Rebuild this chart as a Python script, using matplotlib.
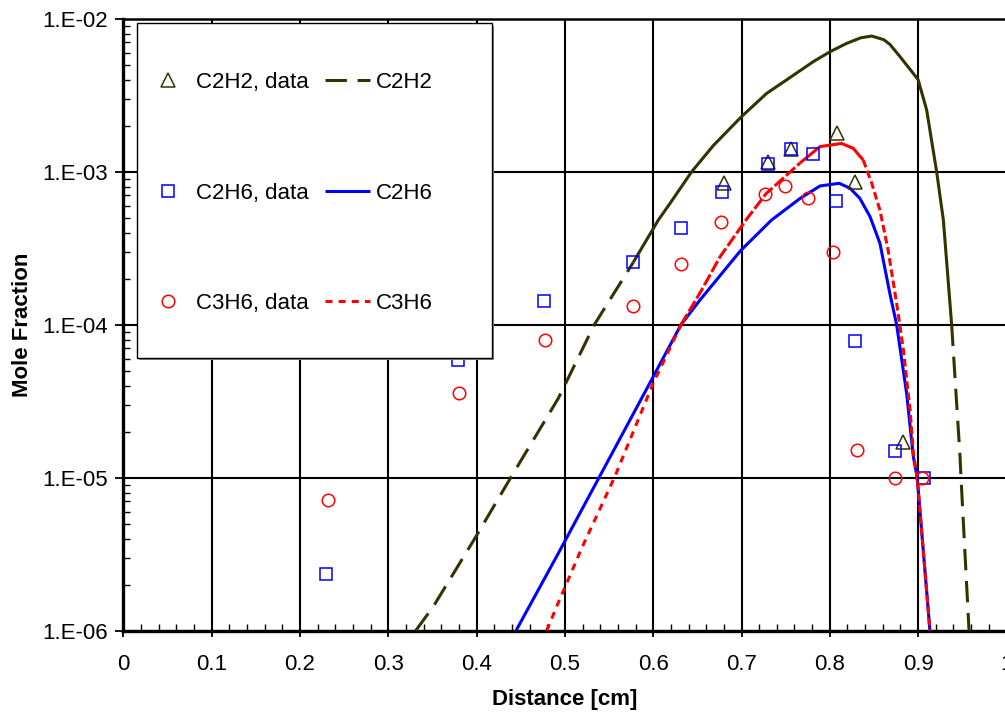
import numpy as np
import matplotlib
matplotlib.use("Agg")
import matplotlib.pyplot as plt
from matplotlib.ticker import MultipleLocator, LogLocator, FixedLocator, FuncFormatter, NullFormatter
from matplotlib.patches import Rectangle

plt.rcParams["font.family"] = ["Liberation Sans", "DejaVu Sans"]
plt.rcParams["font.size"] = 16

# Measured species profiles (distance in cm, mole fraction)
c2h2_data_x = [0.6805, 0.730, 0.756, 0.808, 0.829, 0.8826]
c2h2_data_y = [8.4e-4, 1.15e-3, 1.40e-3, 1.80e-3, 8.5e-4, 1.70e-5]

c2h6_data_x = [0.230, 0.379, 0.476, 0.5775, 0.632, 0.678, 0.730, 0.756, 0.781, 0.807, 0.828, 0.8735, 0.907]
c2h6_data_y = [2.35e-6, 5.9e-5, 1.43e-4, 2.56e-4, 4.27e-4, 7.4e-4, 1.13e-3, 1.40e-3, 1.31e-3, 6.46e-4, 7.86e-5, 1.50e-5, 1.0e-5]

c3h6_data_x = [0.232, 0.380, 0.478, 0.5775, 0.632, 0.677, 0.727, 0.749, 0.775, 0.804, 0.8305, 0.8735, 0.904]
c3h6_data_y = [7.2e-6, 3.56e-5, 7.9e-5, 1.32e-4, 2.5e-4, 4.71e-4, 7.15e-4, 8.07e-4, 6.76e-4, 2.97e-4, 1.52e-5, 1.0e-5, 1.0e-5]

# Model profiles
c2h2_model_x = [0.331, 0.351, 0.399, 0.4386, 0.4925, 0.500, 0.5333, 0.5775, 0.6058, 0.619, 0.6436, 0.668,
                0.700, 0.7285, 0.751, 0.7813, 0.8002, 0.8191, 0.835, 0.8474, 0.861, 0.868, 0.8795, 0.900,
                0.9097, 0.921, 0.9286, 0.938, 0.9475, 0.9486, 0.9577]
c2h2_model_y = [1.0e-6, 1.44e-6, 4.1e-6, 1.0e-5, 3.30e-5, 4.04e-5, 1.0e-4, 2.56e-4, 4.83e-4, 6.2e-4, 1.0e-3, 1.48e-3,
                2.29e-3, 3.25e-3, 3.98e-3, 5.24e-3, 6.08e-3, 6.9e-3, 7.5e-3, 7.7e-3, 7.3e-3, 6.8e-3, 5.65e-3, 4.0e-3,
                2.53e-3, 1.0e-3, 4.83e-4, 1.0e-4, 1.37e-5, 1.0e-5, 1.0e-6]

c2h6_model_x = [0.4446, 0.4925, 0.5386, 0.600, 0.6315, 0.653, 0.699, 0.734, 0.7665, 0.789, 0.8106, 0.8229,
                0.834, 0.8456, 0.8568, 0.868, 0.8757, 0.887, 0.8946, 0.899, 0.9134]
c2h6_model_y = [1.0e-6, 3.2e-6, 1.0e-5, 4.57e-5, 1.0e-4, 1.45e-4, 3.05e-4, 4.83e-4, 6.7e-4, 8.07e-4, 8.4e-4, 7.8e-4,
                6.7e-4, 5.08e-4, 3.4e-4, 1.6e-4, 1.0e-4, 3.56e-5, 1.37e-5, 1.0e-5, 1.0e-6]

c3h6_model_x = [0.4794, 0.4907, 0.519, 0.556, 0.600, 0.6315, 0.655, 0.6757, 0.705, 0.728, 0.7663, 0.789,
                0.8134, 0.8266, 0.8379, 0.8475, 0.8568, 0.866, 0.8757, 0.8834, 0.8909, 0.8946, 0.899, 0.9134]
c3h6_model_y = [1.0e-6, 1.44e-6, 3.46e-6, 1.0e-5, 4.14e-5, 1.0e-4, 1.69e-4, 2.78e-4, 4.83e-4, 7.2e-4, 1.14e-3, 1.46e-3,
                1.53e-3, 1.42e-3, 1.19e-3, 8.4e-4, 5.6e-4, 3.08e-4, 1.38e-4, 6.8e-5, 2.77e-5, 1.45e-5, 1.0e-5, 1.0e-6]

x_ticks = [0, 0.1, 0.2, 0.3, 0.4, 0.5, 0.6, 0.7, 0.8, 0.9, 1.0]
x_tick_labels = ["0", "0.1", "0.2", "0.3", "0.4", "0.5", "0.6", "0.7", "0.8", "0.9", "1"]
y_ticks = [1e-6, 1e-5, 1e-4, 1e-3, 1e-2]

OLIVE = "#333300"
BLUE = "#0000FF"
RED = "#FF0000"
LW = 2.2

W, H = 1005, 713
fig = plt.figure(figsize=(W / 100, H / 100), dpi=100)
ax = fig.add_axes([123.4 / W, 1 - 630.7 / H, 883 / W, 612 / H])

ax.set_yscale("log")
ax.set_xlim(0, 1)
ax.set_ylim(1e-6, 1e-2)


def draw_pieces(xs, ys, pieces, color, label, zorder):
    """Draw one model curve in consecutive pieces; the dash pattern differs
    where the solver grid is dense (the pattern collapses to near solid)."""
    handle = None
    for i0, i1, dashes in pieces:
        kw = dict(color=color, lw=LW, zorder=zorder, solid_capstyle="butt", dash_capstyle="butt",
                  solid_joinstyle="round")
        if dashes is not None:
            kw["dashes"] = dashes
        line, = ax.plot(xs[i0:i1 + 1], ys[i0:i1 + 1], **kw)
        if handle is None:
            line.set_label(label)
            handle = line
    return handle


n2 = len(c2h2_model_x)
n6 = len(c2h6_model_x)
n3 = len(c3h6_model_x)
l1 = draw_pieces(c2h2_model_x, c2h2_model_y,
                 [(0, 7, (7, 3.5)), (7, 27, None), (27, n2 - 1, (7, 3.5))], OLIVE, "C2H2", 3)
l2 = draw_pieces(c2h6_model_x, c2h6_model_y, [(0, n6 - 1, None)], BLUE, "C2H6", 3.2)
l3 = draw_pieces(c3h6_model_x, c3h6_model_y,
                 [(0, 5, (2.3, 2.0)), (5, 10, (4, 1)), (10, 14, None), (14, n3 - 1, (2.5, 1.2))],
                 RED, "C3H6", 3.4)

# Measurements
m1, = ax.plot(c2h2_data_x, c2h2_data_y, ls="none", marker="^", ms=9.5, mfc="none", mec=OLIVE, mew=1.1,
              label="C2H2, data", zorder=4)
m2, = ax.plot(c2h6_data_x, c2h6_data_y, ls="none", marker="s", ms=8.5, mfc="none", mec=BLUE, mew=1.1,
              label="C2H6, data", zorder=4)
m3, = ax.plot(c3h6_data_x, c3h6_data_y, ls="none", marker="o", ms=9, mfc="none", mec=RED, mew=1.1,
              label="C3H6, data", zorder=4)

# Axes, ticks, grid
ax.set_xticks(x_ticks)
ax.set_xticklabels(x_tick_labels)
ax.xaxis.set_minor_locator(MultipleLocator(0.02))
ax.yaxis.set_major_locator(FixedLocator(y_ticks))
ax.yaxis.set_major_formatter(FuncFormatter(lambda v, p: "1.E-%02d" % int(round(-np.log10(v)))))
ax.yaxis.set_minor_locator(LogLocator(base=10, subs=np.arange(2, 10)))
ax.yaxis.set_minor_formatter(NullFormatter())

ax.tick_params(axis="x", which="major", direction="inout", length=8, width=1.3, pad=13, labelsize=16)
ax.tick_params(axis="x", which="minor", direction="in", length=5, width=1)
ax.tick_params(axis="y", which="major", direction="out", length=6, width=1.3, pad=5, labelsize=16)
ax.tick_params(axis="y", which="minor", direction="in", length=5, width=1)

ax.grid(True, which="major", color="black", lw=1.5)
for side in ("left", "bottom"):
    ax.spines[side].set_linewidth(2.4)
ax.spines["top"].set_linewidth(1.8)
ax.spines["right"].set_visible(False)

ax.set_xlabel("Distance [cm]", fontweight="bold", fontsize=16, labelpad=10)
ax.set_ylabel("Mole Fraction", fontweight="bold", fontsize=16, labelpad=7)

# Legend box with a light drop shadow
bx0, by0, bw, bh = 0.01506, 0.4456, 0.402, 0.5469
shadow = Rectangle((bx0 + 0.003, by0 - 0.004), bw, bh, transform=ax.transAxes,
                   facecolor="#888888", edgecolor="none", zorder=9)
box = Rectangle((bx0, by0), bw, bh, transform=ax.transAxes,
                facecolor="white", edgecolor="black", lw=1.0, zorder=10)
ax.add_patch(shadow)
ax.add_patch(box)

leg = ax.legend(handles=[m1, m2, m3, l1, l2, l3], ncol=2, frameon=False, loc="center left",
                bbox_to_anchor=(0.0245, 1 - (193.2 - 18.7) / 612), borderpad=0, borderaxespad=0,
                handlelength=2.03, handletextpad=0.26, columnspacing=0.72, labelspacing=4.03,
                numpoints=1, fontsize=16)
leg.set_zorder(11)

fig.savefig("out.png", dpi=100)
